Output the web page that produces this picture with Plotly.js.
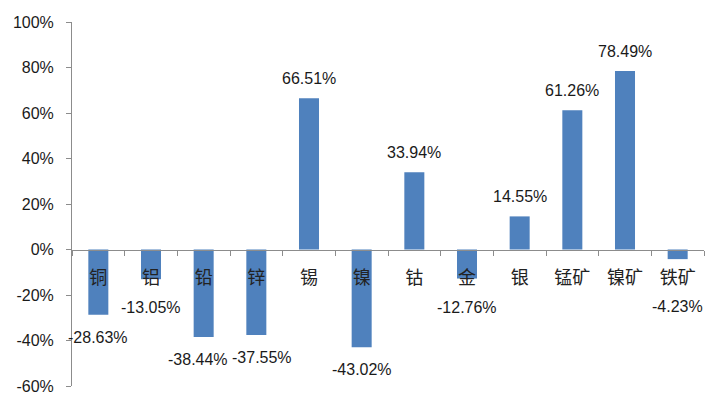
<!DOCTYPE html>
<html>
<head>
<meta charset="utf-8">
<script src="https://cdn.plot.ly/plotly-3.0.1.min.js"></script>
<style>html,body{margin:0;padding:0;background:#fff;}#chart{width:720px;height:418px;}</style>
</head>
<body>
<div id="chart"></div>
<script>
var categories = ["铜", "铝", "铅", "锌", "锡", "镍", "钴", "金", "银", "锰矿", "镍矿", "铁矿"];
var values = [-28.63, -13.05, -38.44, -37.55, 66.51, -43.02, 33.94, -12.76, 14.55, 61.26, 78.49, -4.23];
var yTickVals = [-60, -40, -20, 0, 20, 40, 60, 80, 100];

var FONT = '"Liberation Sans", Arial, "Noto Sans CJK SC", sans-serif';
var CJK = '"Noto Sans CJK SC", "Liberation Sans", sans-serif';

var WIDTH = 720, HEIGHT = 418, MT = 22, MB = 32, ML = 72, MR = 16;
var YMIN = -60, YMAX = 100;
var pxPerUnit = (HEIGHT - MT - MB) / (YMAX - YMIN);
var catWidth = (WIDTH - ML - MR) / categories.length;

var trace = {
  type: 'bar',
  x: categories,
  y: values,
  marker: {color: '#4f81bd'},
  hoverinfo: 'none'
};

var labels = values.map(function (v) { return v.toFixed(2) + '%'; });
var yshifts = values.map(function (v) {
  if (v >= 0) return 9;
  var d = -v * pxPerUnit;
  return -(Math.max(d + 12, 47) - d);
});
// push apart neighbouring labels that would collide horizontally
var xshifts = values.map(function () { return 0; });
for (var i = 0; i < values.length - 1; i++) {
  var a = values[i], b = values[i + 1];
  var ya = a * pxPerUnit + yshifts[i], yb = b * pxPerUnit + yshifts[i + 1];
  if (Math.abs(ya - yb) < 20) {
    var need = (labels[i].length + labels[i + 1].length) * 8.9 / 2 + 2;
    var over = need - catWidth;
    if (over > 0) {
      xshifts[i] -= over / 2;
      xshifts[i + 1] += over / 2;
    }
  }
}

var annotations = values.map(function (v, i) {
  return {
    x: categories[i],
    y: v,
    xref: 'x',
    yref: 'y',
    text: labels[i],
    showarrow: false,
    yanchor: v >= 0 ? 'bottom' : 'top',
    yshift: yshifts[i],
    xshift: xshifts[i],
    font: {family: FONT, size: 16, color: '#1a1a1a'}
  };
});

var layout = {
  width: WIDTH,
  height: HEIGHT,
  margin: {l: ML, r: MR, t: MT, b: MB},
  paper_bgcolor: '#ffffff',
  plot_bgcolor: '#ffffff',
  showlegend: false,
  bargap: 0.62,
  xaxis: {
    type: 'category',
    range: [-0.5, categories.length - 0.5],
    anchor: 'free',
    position: -YMIN / (YMAX - YMIN),
    showline: true,
    linecolor: '#8c8c8c',
    linewidth: 1,
    ticks: 'outside',
    tickson: 'boundaries',
    ticklen: 5,
    tickcolor: '#8c8c8c',
    showgrid: false,
    zeroline: false,
    tickfont: {family: CJK, size: 18, color: '#222'},
    ticklabelstandoff: 12
  },
  yaxis: {
    range: [YMIN, YMAX],
    tickvals: yTickVals,
    ticktext: yTickVals.map(function (t) { return t + '%'; }),
    showline: true,
    linecolor: '#8c8c8c',
    linewidth: 1,
    ticks: 'outside',
    ticklen: 5,
    tickcolor: '#8c8c8c',
    showgrid: false,
    zeroline: false,
    tickfont: {family: FONT, size: 16, color: '#1a1a1a'},
    ticklabelstandoff: 9
  },
  annotations: annotations
};

Plotly.newPlot('chart', [trace], layout, {displayModeBar: false, staticPlot: true});
</script>
</body>
</html>
